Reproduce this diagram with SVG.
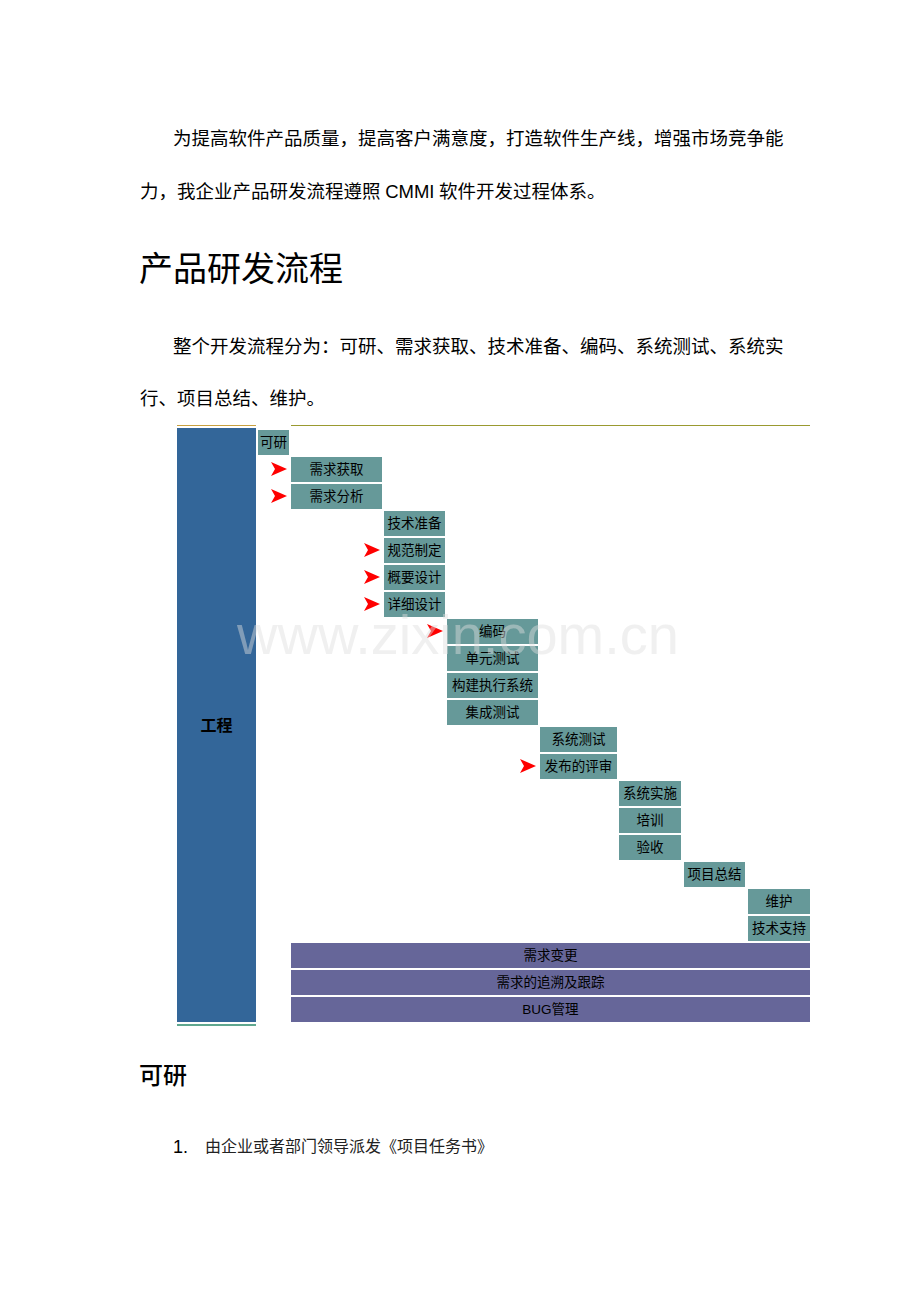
<svg xmlns="http://www.w3.org/2000/svg" xmlns:xlink="http://www.w3.org/1999/xlink" width="920" height="1302" viewBox="0 0 920 1302">
<style>
.body{font-family:"Liberation Serif","Noto Sans CJK SC",serif;font-size:18.5px;fill:#000}
.h1{font-family:"Liberation Sans","Noto Sans CJK SC",sans-serif;font-size:34px;fill:#000}
.h2{font-family:"Liberation Sans","Noto Sans CJK SC",sans-serif;font-size:24px;font-weight:500;fill:#000}
.t{fill:#669999}
.p{fill:#666699}
.lbl{font-family:"Liberation Sans","Noto Sans CJK SC",sans-serif;font-size:13.5px;fill:#000;text-anchor:middle;dominant-baseline:central}
.big{font-size:16px;font-weight:bold}
.wm{font-family:"Liberation Sans","Noto Sans CJK SC",sans-serif;font-size:56px;fill:#dddddd;fill-opacity:0.45}
</style>
<defs>
<polygon id="arr" points="0,-7 16,0 0,7 4,0" fill="#ff0000"/>
</defs>
<rect width="920" height="1302" fill="#ffffff"/>
<g id="text">
<text class="body" x="173" y="145">为提高软件产品质量，提高客户满意度，打造软件生产线，增强市场竞争能</text>
<text class="body" x="140" y="198">力，我企业产品研发流程遵照 <tspan font-family="Liberation Sans,Noto Sans CJK SC,sans-serif">CMMI</tspan> 软件开发过程体系。</text>
<text class="h1" x="139" y="281">产品研发流程</text>
<text class="body" x="173" y="353">整个开发流程分为：可研、需求获取、技术准备、编码、系统测试、系统实</text>
<text class="body" x="140" y="405">行、项目总结、维护。</text>
<text class="h2" x="139" y="1084">可研</text>
<text x="173" y="1153" font-family="Liberation Sans,Noto Sans CJK SC,sans-serif" font-size="18" fill="#000">1.</text>
<text x="205" y="1152" font-family="Liberation Serif,Noto Sans CJK SC,serif" font-size="16" fill="#222">由企业或者部门领导派发《项目任务书》</text>
</g>
<g id="frame">
<line x1="177" y1="425.5" x2="256" y2="425.5" stroke="#c8a040" stroke-width="1"/>
<line x1="291" y1="425.5" x2="810" y2="425.5" stroke="#9a9a30" stroke-width="1"/>
<rect x="177" y="428" width="79" height="594" fill="#336699"/>
<line x1="177" y1="1025" x2="256" y2="1025" stroke="#2a8a6a" stroke-width="1.5"/>
<text x="216.5" y="725" class="lbl big">工程</text>
</g>
<g id="n-keyan"><rect class="t" x="258" y="430" width="31" height="25"/><text class="lbl" x="273.5" y="442.5">可研</text></g>
<g id="n-xqhq"><rect class="t" x="291" y="457" width="91" height="25"/><text class="lbl" x="336.5" y="469.5">需求获取</text></g>
<g id="n-xqfx"><rect class="t" x="291" y="484" width="91" height="25"/><text class="lbl" x="336.5" y="496.5">需求分析</text></g>
<g id="n-jszb"><rect class="t" x="384" y="511" width="61" height="25"/><text class="lbl" x="414.5" y="523.5">技术准备</text></g>
<g id="n-gfzd"><rect class="t" x="384" y="538" width="61" height="25"/><text class="lbl" x="414.5" y="550.5">规范制定</text></g>
<g id="n-gysj"><rect class="t" x="384" y="565" width="61" height="25"/><text class="lbl" x="414.5" y="577.5">概要设计</text></g>
<g id="n-xxsj"><rect class="t" x="384" y="592" width="61" height="25"/><text class="lbl" x="414.5" y="604.5">详细设计</text></g>
<g id="n-bm"><rect class="t" x="447" y="619" width="91" height="25"/><text class="lbl" x="492.5" y="631.5">编码</text></g>
<g id="n-dycs"><rect class="t" x="447" y="646" width="91" height="25"/><text class="lbl" x="492.5" y="658.5">单元测试</text></g>
<g id="n-gjzx"><rect class="t" x="447" y="673" width="91" height="25"/><text class="lbl" x="492.5" y="685.5">构建执行系统</text></g>
<g id="n-jccs"><rect class="t" x="447" y="700" width="91" height="25"/><text class="lbl" x="492.5" y="712.5">集成测试</text></g>
<g id="n-xtcs"><rect class="t" x="540" y="727" width="77" height="25"/><text class="lbl" x="578.5" y="739.5">系统测试</text></g>
<g id="n-fbps"><rect class="t" x="540" y="754" width="77" height="25"/><text class="lbl" x="578.5" y="766.5">发布的评审</text></g>
<g id="n-xtss"><rect class="t" x="619" y="781" width="62" height="25"/><text class="lbl" x="650" y="793.5">系统实施</text></g>
<g id="n-px"><rect class="t" x="619" y="808" width="62" height="25"/><text class="lbl" x="650" y="820.5">培训</text></g>
<g id="n-ys"><rect class="t" x="619" y="835" width="62" height="25"/><text class="lbl" x="650" y="847.5">验收</text></g>
<g id="n-xmzj"><rect class="t" x="684" y="862" width="61" height="25"/><text class="lbl" x="714.5" y="874.5">项目总结</text></g>
<g id="n-wh"><rect class="t" x="748" y="889" width="62" height="25"/><text class="lbl" x="779" y="901.5">维护</text></g>
<g id="n-jszc"><rect class="t" x="748" y="916" width="62" height="25"/><text class="lbl" x="779" y="928.5">技术支持</text></g>
<g id="n-xqbg"><rect class="p" x="291" y="943" width="519" height="25"/><text class="lbl" x="550.5" y="955.5">需求变更</text></g>
<g id="n-xqzs"><rect class="p" x="291" y="970" width="519" height="25"/><text class="lbl" x="550.5" y="982.5">需求的追溯及跟踪</text></g>
<g id="n-bug"><rect class="p" x="291" y="997" width="519" height="25"/><text class="lbl" x="550.5" y="1009.5">BUG管理</text></g>
<g id="connectors">
<use xlink:href="#arr" x="271" y="469"/>
<use xlink:href="#arr" x="271" y="496"/>
<use xlink:href="#arr" x="364" y="550"/>
<use xlink:href="#arr" x="364" y="577"/>
<use xlink:href="#arr" x="364" y="604"/>
<use xlink:href="#arr" x="427" y="631"/>
<use xlink:href="#arr" x="520" y="766"/>
</g>
<text class="wm" x="237" y="654">www.zixin.com.cn</text>
</svg>
